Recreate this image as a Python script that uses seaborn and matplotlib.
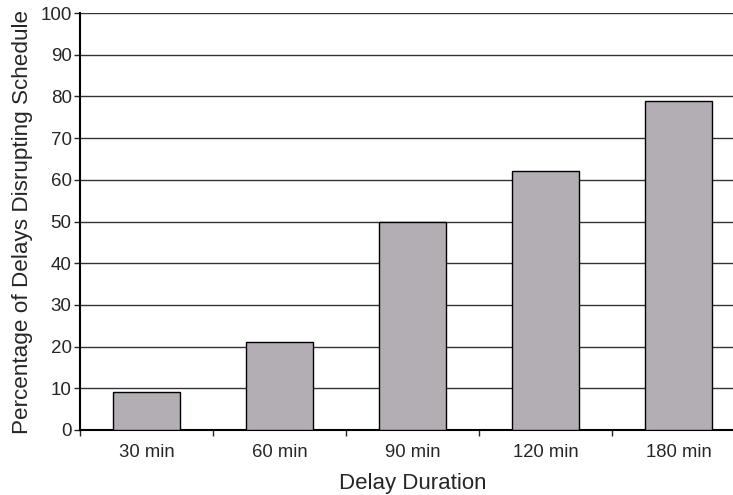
import pandas as pd
import matplotlib
matplotlib.use("Agg")
import matplotlib.pyplot as plt
import seaborn as sns

# Chart data
durations = ["30 min", "60 min", "90 min", "120 min", "180 min"]
disrupt_pct = [9, 21, 50, 62, 79]
y_ticks = [0, 10, 20, 30, 40, 50, 60, 70, 80, 90, 100]

data = pd.DataFrame({"Delay Duration": durations, "Percent": disrupt_pct})

sns.set_style("white")
plt.rcParams["font.family"] = ["Liberation Sans", "DejaVu Sans"]

fig = plt.figure(figsize=(7.33, 4.95), dpi=100)
# plot area runs a bit past the right edge, like the original
ax = fig.add_axes([80 / 733, 65 / 495, 665 / 733, 417 / 495])

sns.barplot(data=data, x="Delay Duration", y="Percent", color="#B3AEB3",
            edgecolor="black", linewidth=1, width=0.5, saturation=1, ax=ax, zorder=3)

ax.set_xlim(-0.5, len(durations) - 0.5)
ax.set_ylim(0, 100)
ax.set_yticks(y_ticks)
ax.yaxis.grid(True, color="#333333", linewidth=1)
ax.set_axisbelow(True)

# tick marks between categories, labels under the bars
ax.set_xticks([i + 0.5 for i in range(-1, len(durations))], minor=True)
ax.tick_params(axis="x", which="major", length=0, labelsize=13.3, pad=10)
ax.tick_params(axis="x", which="minor", length=4, width=1, direction="out", bottom=True)
ax.tick_params(axis="y", length=4, width=1, direction="out", left=True, labelsize=13.5, pad=2)

for side in ["top", "right"]:
    ax.spines[side].set_visible(False)
for side in ["left", "bottom"]:
    ax.spines[side].set_color("black")
    ax.spines[side].set_linewidth(1.5)

ax.set_xlabel("Delay Duration", fontsize=16, labelpad=9)
ax.set_ylabel("Percentage of Delays Disrupting Schedule", fontsize=16.2, labelpad=5)

fig.savefig("out.png", dpi=100)
